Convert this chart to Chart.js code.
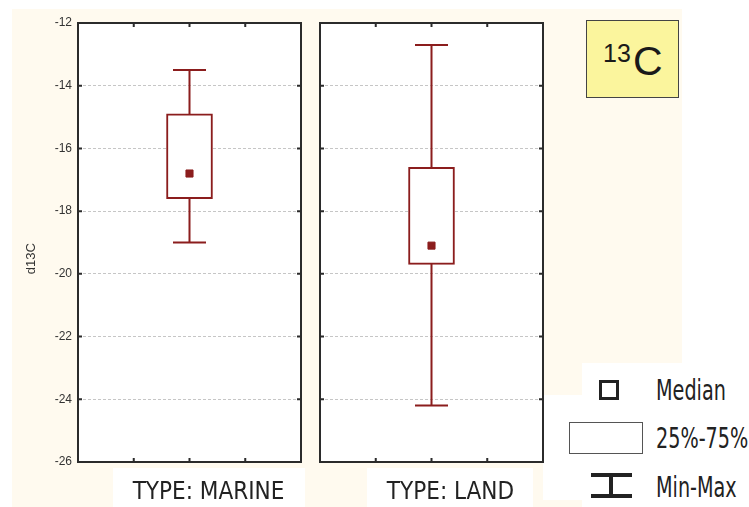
<!DOCTYPE html>
<html><head><meta charset="utf-8">
<script src="https://cdn.jsdelivr.net/npm/chart.js@4.4.1/dist/chart.umd.min.js"></script>
<style>
html,body{margin:0;padding:0;background:#fff;width:749px;height:507px;overflow:hidden;position:relative}
.abs{position:absolute}
#cream{left:12px;top:9px;width:670px;height:498px;background:#fffaef}
.wb{position:absolute;background:#fff}
canvas{position:absolute;top:0}
#c1{left:0}
#c2{left:300px}
#badge{left:586px;top:20px;width:91px;height:76px;background:#fbf59d;border:1.5px solid #444}
.big{font-family:"Liberation Sans",Arial,sans-serif;color:#1a1a1a;white-space:nowrap}
.leg{font-family:"DejaVu Sans Condensed","Liberation Sans Narrow","Liberation Sans",sans-serif;font-size:22px;line-height:22px;color:#222;white-space:nowrap;transform:scale(0.97,1.25);transform-origin:0 0}
</style></head>
<body>
<div id="cream" class="abs"></div>
<div class="wb" style="left:113px;top:468px;width:192px;height:39px"></div>
<div class="wb" style="left:367px;top:468px;width:166px;height:39px"></div>
<div class="wb" style="left:582px;top:363px;width:167px;height:144px"></div>
<div class="wb" style="left:543px;top:395px;width:39px;height:105px"></div>
<canvas id="c1" width="310" height="507"></canvas>
<canvas id="c2" width="260" height="507"></canvas>
<div id="badge" class="abs"></div>
<div class="abs big" style="left:603px;top:41px;font-size:25px;line-height:25px">13</div>
<div class="abs big" style="left:633px;top:41px;font-size:41px;line-height:41px">C</div>
<!-- legend -->
<div class="abs" style="left:599px;top:380px;width:14px;height:14px;border:3px solid #222"></div>
<div class="abs leg" style="left:656px;top:377px">Median</div>
<div class="abs" style="left:569px;top:422px;width:72px;height:30px;border:1.5px solid #555;background:#fff"></div>
<div class="abs leg" style="left:656px;top:425px">25%-75%</div>
<div class="abs" style="left:591px;top:473px;width:41px;height:4px;background:#222"></div>
<div class="abs" style="left:609px;top:473px;width:4px;height:24px;background:#222"></div>
<div class="abs" style="left:591px;top:494px;width:41px;height:4px;background:#222"></div>
<div class="abs leg" style="left:656px;top:474px">Min-Max</div>
<script>
const categories = ['TYPE: MARINE', 'TYPE: LAND'];
const minValues = [-19.0, -24.2];
const q1Values = [-17.6, -19.7];
const medianValues = [-16.8, -19.1];
const q3Values = [-14.9, -16.6];
const maxValues = [-13.5, -12.7];
const yTickValues = [-26, -24, -22, -20, -18, -16, -14, -12];
const yTitle = 'd13C';

const boxColor = '#8b1d1d';
const labelFont = {family: '"DejaVu Sans Condensed","Liberation Sans Narrow","Liberation Sans",sans-serif', size: 24};

const panelPlugin = {
  id: 'panel',
  beforeDraw(chart) {
    const {ctx, chartArea: a} = chart;
    ctx.save();
    ctx.fillStyle = '#fff';
    ctx.fillRect(a.left, a.top, a.right - a.left, a.bottom - a.top);
    ctx.restore();
  },
  beforeDatasetsDraw(chart) {
    const {ctx} = chart;
    const ds = chart.data.datasets[0];
    const meta = chart.getDatasetMeta(0);
    const ys = chart.scales.y;
    const x = meta.data[0].x;
    const yMin = ys.getPixelForValue(ds.whiskerMin);
    const yMax = ys.getPixelForValue(ds.whiskerMax);
    ctx.save();
    ctx.strokeStyle = boxColor;
    ctx.lineWidth = 2;
    ctx.beginPath();
    ctx.moveTo(x, yMin); ctx.lineTo(x, yMax);
    ctx.moveTo(x - 16.5, yMin); ctx.lineTo(x + 16.5, yMin);
    ctx.moveTo(x - 16.5, yMax); ctx.lineTo(x + 16.5, yMax);
    ctx.stroke();
    ctx.restore();
  },
  afterDatasetsDraw(chart) {
    const {ctx, chartArea: a} = chart;
    const ys = chart.scales.y;
    ctx.save();
    ctx.strokeStyle = '#2b2b2b';
    ctx.lineWidth = 2;
    ctx.strokeRect(a.left, a.top, a.right - a.left, a.bottom - a.top);
    ctx.beginPath();
    ys.ticks.forEach(t => {
      const y = ys.getPixelForValue(t.value);
      ctx.moveTo(a.left, y); ctx.lineTo(a.left + 4, y);
      ctx.moveTo(a.right - 4, y); ctx.lineTo(a.right, y);
    });
    for (let i = 1; i < 4; i++) {
      const x = a.left + (a.right - a.left) * i / 4;
      ctx.moveTo(x, a.top); ctx.lineTo(x, a.top + 4);
      ctx.moveTo(x, a.bottom - 4); ctx.lineTo(x, a.bottom);
    }
    ctx.stroke();
    ctx.restore();
  }
};

function makePanel(canvasId, i, showY, padding) {
  return new Chart(document.getElementById(canvasId), {
    data: {
      labels: [categories[i]],
      datasets: [
        {
          type: 'bar',
          data: [[q1Values[i], q3Values[i]]],
          whiskerMin: minValues[i],
          whiskerMax: maxValues[i],
          backgroundColor: '#ffffff',
          borderColor: boxColor,
          borderWidth: 2,
          borderSkipped: false,
          barThickness: 46,
          order: 1
        },
        {
          type: 'line',
          data: [medianValues[i]],
          showLine: false,
          pointStyle: 'rect',
          pointRadius: 5,
          backgroundColor: boxColor,
          borderColor: boxColor,
          borderWidth: 1,
          order: 0
        }
      ]
    },
    options: {
      responsive: false,
      devicePixelRatio: 1,
      animation: false,
      events: [],
      layout: {padding: padding},
      plugins: {legend: {display: false}, tooltip: {enabled: false}},
      scales: {
        x: {
          type: 'category',
          offset: true,
          grid: {display: false, drawTicks: false},
          border: {display: false},
          ticks: {font: labelFont, color: '#222', padding: 16, labelOffset: 19, maxRotation: 0, autoSkip: false},
          afterFit(s) { s.height = 45; }
        },
        y: {
          min: -26, max: -12,
          afterBuildTicks(s) { s.ticks = yTickValues.map(v => ({value: v})); },
          grid: {color: '#c6c6c6', lineWidth: 1, drawTicks: false},
          border: {display: false, dash: [3, 2]},
          ticks: {
            display: showY,
            padding: 6,
            color: '#333',
            font: {family: '"Liberation Sans",Arial,sans-serif', size: 12}
          },
          title: {
            display: showY,
            text: yTitle + '         ',
            color: '#333',
            font: {family: '"Liberation Sans",Arial,sans-serif', size: 13},
            padding: {top: 24, bottom: 0}
          },
          afterFit(s) { s.width = showY ? 78 : 0; }
        }
      }
    },
    plugins: [panelPlugin]
  });
}

makePanel('c1', 0, true, {left: 0, right: 9, top: 23, bottom: 0});
makePanel('c2', 1, false, {left: 20, right: 17, top: 23, bottom: 0});
</script>
</body></html>
